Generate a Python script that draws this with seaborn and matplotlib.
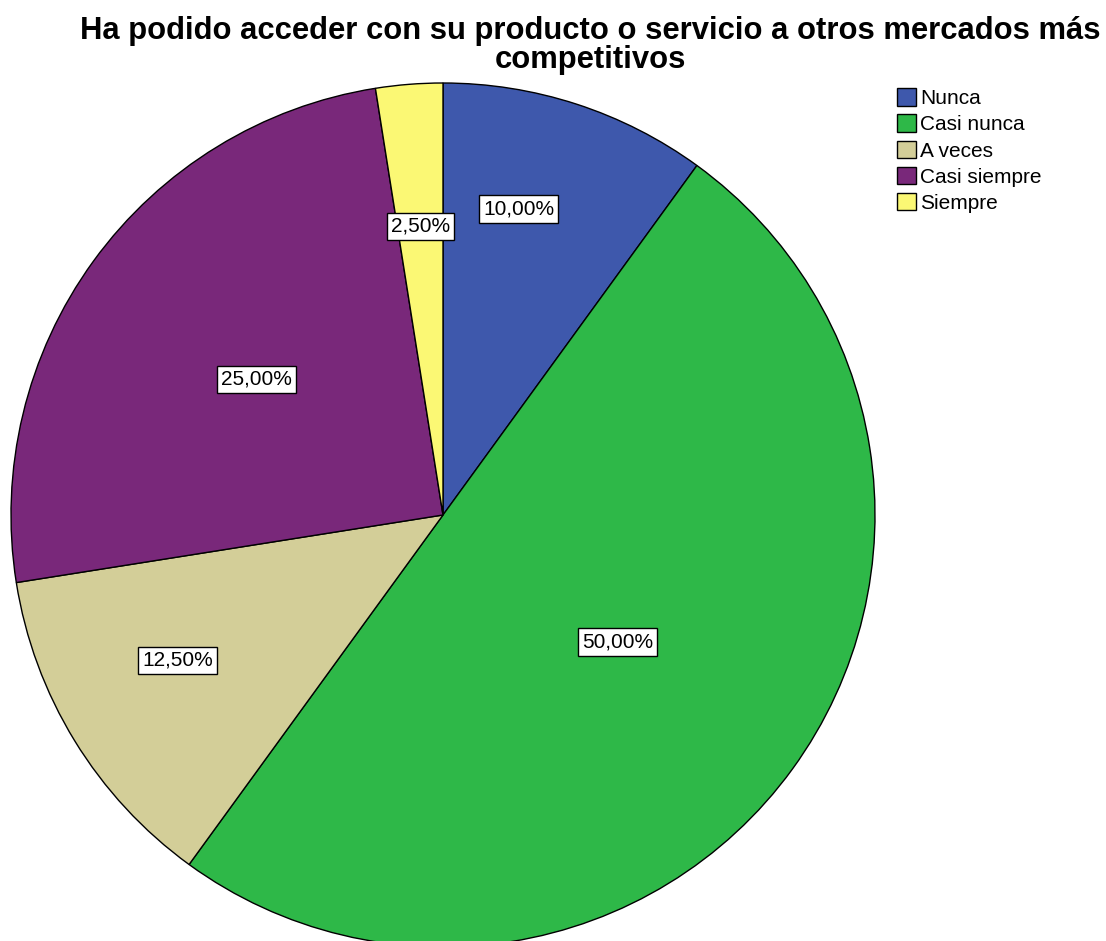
import numpy as np
import matplotlib
matplotlib.use("Agg")
import matplotlib.pyplot as plt
import seaborn as sns

# Datos
categorias = ["Nunca", "Casi nunca", "A veces", "Casi siempre", "Siempre"]
porcentajes = [10.0, 50.0, 12.5, 25.0, 2.5]
colores = ["#3E58AC", "#2EB848", "#D3CE98", "#79287A", "#FBF874"]
titulo = "Ha podido acceder con su producto o servicio a otros mercados más\ncompetitivos"

sns.set_theme(style="white")
plt.rcParams['font.family'] = ['Liberation Sans', 'DejaVu Sans']
plt.rcParams['text.color'] = 'black'

fig = plt.figure(figsize=(11.06, 9.41), dpi=100)
ax = fig.add_axes([0, 0, 1, 1])

centro = (443, 426)
radio = 432
wedges, _ = ax.pie(porcentajes, colors=colores, startangle=90, counterclock=False,
                   center=centro, radius=radio, frame=True,
                   wedgeprops=dict(edgecolor='black', linewidth=1))
ax.set_xlim(0, 1106)
ax.set_ylim(0, 941)
ax.set_aspect('equal')
ax.axis('off')

# etiquetas de porcentaje (distancia radial y pequeño giro respecto al centro de cada sector)
dist = [0.73, 0.50, 0.70, 0.534, 0.67]
giro = [4.1, 0.0, -2.8, 0.0, 0.0]
for w, p, d, g in zip(wedges, porcentajes, dist, giro):
    ang = np.deg2rad((w.theta1 + w.theta2) / 2 + g)
    x = centro[0] + d * radio * np.cos(ang)
    y = centro[1] + d * radio * np.sin(ang)
    ax.text(x, y, f"{p:.2f}%".replace('.', ','), ha='center', va='center', fontsize=15,
            color='black',
            bbox=dict(boxstyle='square,pad=0.2', fc='white', ec='black', lw=1))

fig.text(590 / 1106, 1 - 45.5 / 941, titulo, ha='center', va='center', fontsize=22.3,
         fontweight='bold', linespacing=0.95, color='black')

fig.legend(wedges, categorias, loc='upper left', bbox_to_anchor=(889 / 1106, 1 - 80 / 941),
           frameon=False, fontsize=15, handlelength=0.91, handleheight=0.91,
           handletextpad=0.2, labelspacing=0.3, borderaxespad=0, labelcolor='black')

plt.savefig("out.png", dpi=100)
